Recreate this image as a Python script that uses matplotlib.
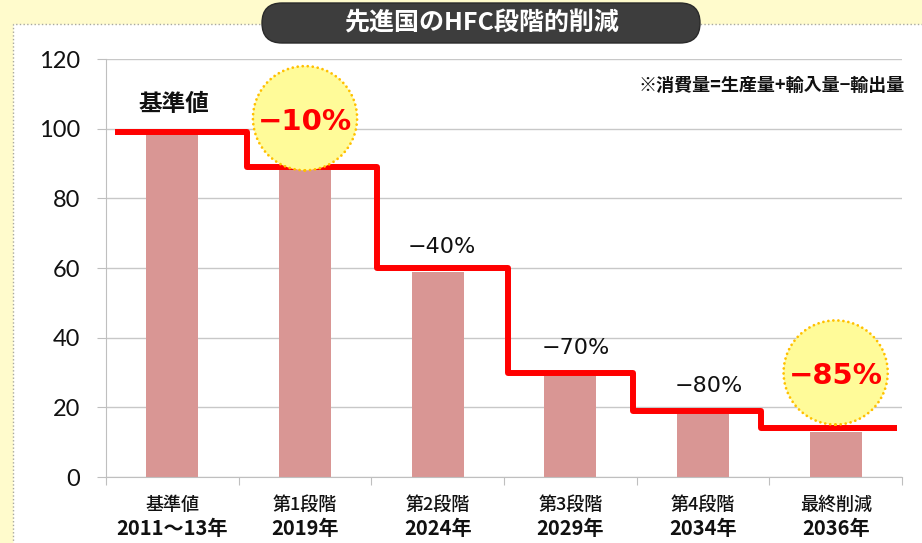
import numpy as np
import matplotlib.pyplot as plt
from matplotlib.patches import FancyBboxPatch, Rectangle
from matplotlib.transforms import blended_transform_factory

plt.rcParams['font.family'] = ['Noto Sans CJK JP', 'DejaVu Sans']

# data
stages = ['基準値', '第1段階', '第2段階', '第3段階', '第4段階', '最終削減']
years = ['2011～13年', '2019年', '2024年', '2029年', '2034年', '2036年']
bar_vals = [100, 90, 59, 29, 18, 13]
cap_vals = [99, 89, 60, 30, 19, 14]
cap_edges = [-0.43, 0.56, 1.54, 2.53, 3.47, 4.44, 5.46]
cut_labels = ['−40%', '−70%', '−80%']
cut_x = [2.03, 3.04, 4.04]
cut_y = [66, 37, 26]
badge_labels = ['−10%', '−85%']
badge_x = [1, 5]
badge_y = [103, 30]

fig = plt.figure(figsize=(9.22, 5.43), dpi=100, facecolor='#FFFBCC')

# white panel with dotted border
fig.patches.append(Rectangle((0.13, -0.1), 9.3, 5.29, transform=fig.dpi_scale_trans,
                             fc='white', ec='#A8A8A0', ls=':', lw=1, zorder=-5))
# title pill
fig.patches.append(FancyBboxPatch((2.62, 5.0), 4.38, 0.40, transform=fig.dpi_scale_trans,
                                  boxstyle='round,pad=0,rounding_size=0.2',
                                  fc='#3D3D3D', ec='#2A2A2A', lw=1, zorder=-4))
fig.text(0.5217, 0.9576, '先進国のHFC段階的削減', color='white', fontsize=18,
         fontweight='bold', ha='center', va='center')

ax = fig.add_axes([0.115, 0.1215, 0.8633, 0.7698])
ax.set_facecolor('none')
x = np.arange(len(stages))

ax.bar(x, bar_vals, width=0.39, color='#D99694', zorder=2)
ax.stairs(cap_vals, cap_edges, baseline=None, color='#FF0000', lw=4.3,
          joinstyle='round', zorder=4)

ax.set_xlim(-0.5, 5.5)
ax.set_ylim(0, 120)
ax.set_yticks(range(0, 121, 20))
ax.yaxis.grid(True, color='#C8C8C8', lw=1)
ax.set_axisbelow(True)
ax.set_xticks(np.arange(-0.5, 6, 1))
ax.set_xticklabels([])
for s in ['top', 'right']:
    ax.spines[s].set_visible(False)
for s in ['left', 'bottom']:
    ax.spines[s].set_color('#BFBFBF')
ax.tick_params(axis='y', length=6.5, color='#BFBFBF', pad=12, labelsize=17,
               labelcolor='#111111')
ax.tick_params(axis='x', length=5.5, color='#BFBFBF')
for lbl in ax.get_yticklabels():
    lbl.set_fontfamily('Lato')

trans = blended_transform_factory(ax.transData, ax.transAxes)
for xi, st, yr in zip(x, stages, years):
    ax.text(xi, -0.067, st, transform=trans, ha='center', va='center',
            fontsize=13, fontweight='medium', color='#111111')
    ax.text(xi, -0.122, yr, transform=trans, ha='center', va='center',
            fontsize=14.5, fontweight='bold', color='#111111')

ax.text(0.01, 107, '基準値', ha='center', va='center', fontsize=17,
        fontweight='bold', color='#111111')
for cx, cy, lab in zip(cut_x, cut_y, cut_labels):
    ax.text(cx, cy, lab, ha='center', va='center', fontsize=16,
            family='DejaVu Sans', color='#111111')

ax.scatter(badge_x, badge_y, s=75 ** 2, fc='#FFFB99', ec='#FFC000', lw=2,
           linestyle=(0, (0.01, 1.8)), capstyle='round', zorder=5, clip_on=False)
for bx, by, lab in zip(badge_x, badge_y, badge_labels):
    ax.text(bx, by - 1, lab, ha='center', va='center', fontsize=21,
            fontweight='bold', family='DejaVu Sans', color='#FF0000', zorder=6)

fig.text(0.9816, 0.8435, '※消費量=生産量+輸入量−輸出量', ha='right', va='center',
         fontsize=13, fontweight='bold', color='#111111')

fig.savefig('out.png', dpi=100, facecolor=fig.get_facecolor())
